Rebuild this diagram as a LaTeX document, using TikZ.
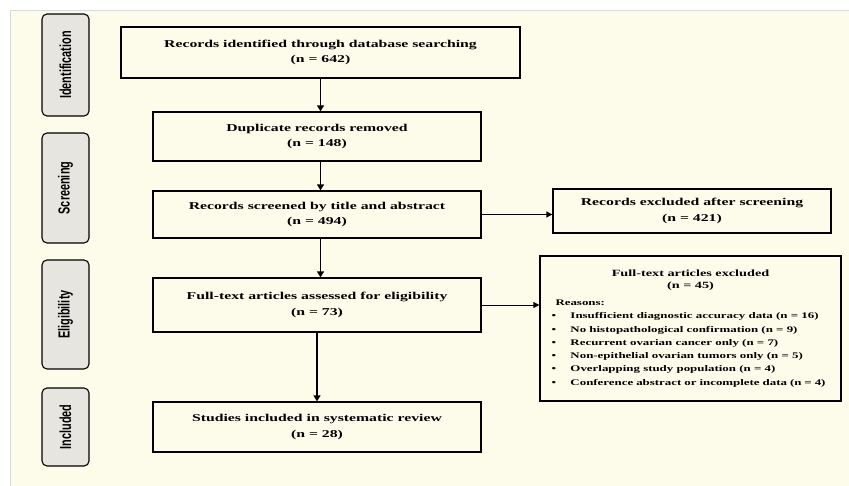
\documentclass[tikz,border=0pt]{standalone}
\usepackage{fontspec}
\setmainfont{Liberation Serif}[FakeStretch=1.5]
\newfontfamily\stagefont{Liberation Sans}[FakeStretch=0.68]
\usetikzlibrary{arrows.meta}
\definecolor{panel}{HTML}{FDFBEA}
\definecolor{stagegrey}{HTML}{E7E5DF}
\definecolor{rim}{HTML}{D3DAE4}

\begin{document}
\begin{tikzpicture}[x=1pt, y=-1pt, align=center, node distance=80pt,
	main/.style = {draw, line width=1.3pt, font=\bfseries\fontsize{10.5}{15.6}\selectfont, minimum width=328pt, inner sep=0pt},
	stage/.style = {draw, line width=1.1pt, rounded corners=5pt, fill=stagegrey, minimum height=47pt, rotate=90, font=\stagefont\bfseries\fontsize{16}{16}\selectfont},
	flow/.style = {line width=1.7pt, -{Triangle[length=6pt, width=7pt]}},
	side/.style = {line width=0.8pt, -{Triangle[length=6pt, width=6pt]}}]
	\useasboundingbox (0,0) rectangle (849,486);
	\fill[white] (0,0) rectangle (849,486);
	\fill[panel] (10,11) rectangle (849,486);
	\draw[rim, line width=1pt] (10,486) -- (10,11) -- (849,11);
	\node[stage, minimum width=102pt] (s1) at (65.5,65) {Identification};
	\node[stage, minimum width=110pt] (s2) at (65.5,188) {Screening};
	\node[stage, minimum width=109pt] (s3) at (65.5,314.5) {Eligibility};
	\node[stage, minimum width=78pt] (s4) at (65.5,427) {Included};
	\node[main, minimum width=399pt, minimum height=51pt] (1) at (320.5,52.5) {Records identified through database searching\\(n = 642)};
	\node[main, minimum height=49pt, node distance=84pt, xshift=-3.5pt] (2) [below of = 1] {Duplicate records removed\\(n = 148)};
	\node[main, minimum height=47pt, node distance=78pt] (3) [below of = 2] {Records screened by title and abstract\\(n = 494)};
	\node[main, minimum height=54pt, node distance=90.5pt] (4) [below of = 3] {Full-text articles assessed for eligibility\\(n = 73)};
	\node[main, minimum height=50pt, node distance=122pt] (5) [below of = 4] {Studies included in systematic review\\(n = 28)};
	\node[main, minimum width=278pt, minimum height=44pt, node distance=375pt, yshift=3.5pt] (6) [right of = 3] {Records excluded after screening\\(n = 421)};
	\node[main, minimum width=301pt, minimum height=145pt] (7) at (690.5,328.5) {\begin{minipage}{270pt}\centering\fontsize{9.5}{11.6}\selectfont
		Full-text articles excluded\\(n = 45)\par\vspace{4pt}
		\raggedright\fontsize{8.6}{13.3}\selectfont
		Reasons:\\
		\hspace*{-4pt}\makebox[19pt][l]{\textbullet}Insufficient diagnostic accuracy data (n = 16)\\
		\hspace*{-4pt}\makebox[19pt][l]{\textbullet}No histopathological confirmation (n = 9)\\
		\hspace*{-4pt}\makebox[19pt][l]{\textbullet}Recurrent ovarian cancer only (n = 7)\\
		\hspace*{-4pt}\makebox[19pt][l]{\textbullet}Non-epithelial ovarian tumors only (n = 5)\\
		\hspace*{-4pt}\makebox[19pt][l]{\textbullet}Overlapping study population (n = 4)\\
		\hspace*{-4pt}\makebox[19pt][l]{\textbullet}Conference abstract or incomplete data (n = 4)
	\end{minipage}};
	\draw[flow] (1.south) -- (1.south |- 2.north);
	\draw[flow] (1.south |- 2.south) -- (1.south |- 3.north);
	\draw[flow] (1.south |- 3.south) -- (1.south |- 4.north);
	\draw[flow] (4.south) -- (5.north);
	\draw[side] (3.east) -- (3.east -| 6.west);
	\draw[side] (4.east) -- (4.east -| 7.west);
\end{tikzpicture}
\end{document}
